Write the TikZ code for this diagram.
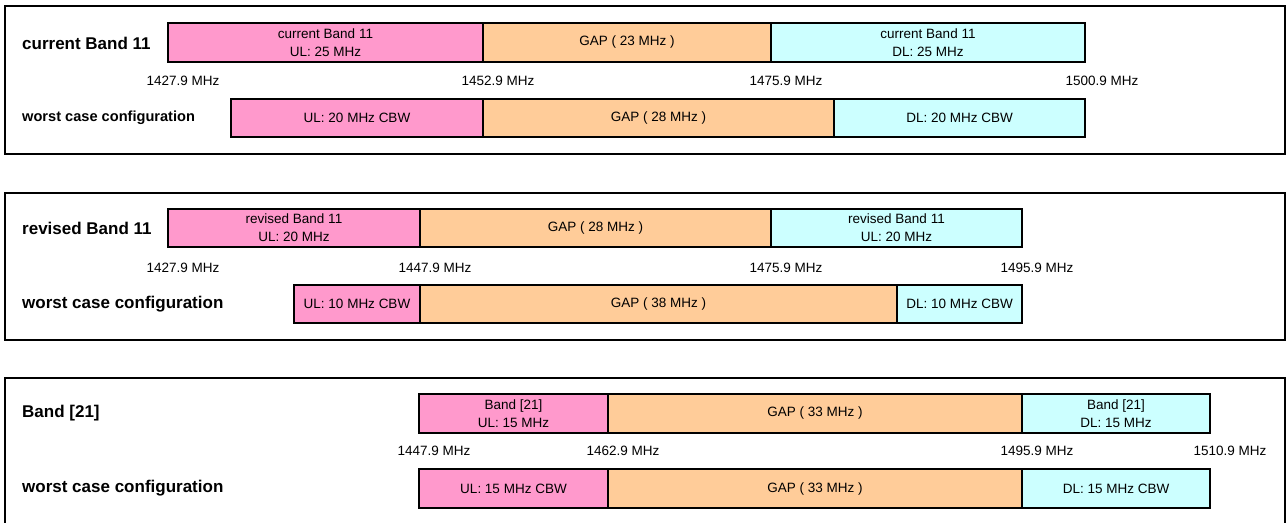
\documentclass[tikz,border=0pt]{standalone}
\usepackage{fontspec}
\setmainfont{Liberation Sans}
\definecolor{ulc}{HTML}{FF99CC}
\definecolor{gapc}{HTML}{FFCC99}
\definecolor{dlc}{HTML}{CCFFFF}
\tikzset{
  seg/.style={draw=black, line width=1.6pt, rectangle, inner sep=0pt, outer sep=0pt,
    anchor=north west, align=center, font=\fontsize{13.5}{18}\selectfont},
  frame/.style={draw=black, line width=2.5pt},
  freq/.style={font=\fontsize{13.5}{16}\selectfont, inner sep=0pt},
  rowlab/.style={font=\bfseries\fontsize{17}{20}\selectfont, anchor=west, inner sep=0pt},
  rowlabsmall/.style={rowlab, font=\bfseries\fontsize{14.6}{17}\selectfont},
}
\newcommand{\segm}[7]{\node[seg, fill=#2, minimum width={(#4-#3)*1pt}, minimum height={(#6-#5)*1pt}] (#1) at (#3,#5) {#7};}
\begin{document}
\begin{tikzpicture}[x=1pt,y=-1pt]
\useasboundingbox (0,0) rectangle (1287,522);
% frames
\draw[frame] (5,6) rectangle (1285,154);
\draw[frame] (5,193) rectangle (1285,340);
\draw[frame] (5,545) |- (1285,378) -- (1285,545);

% ---------- panel 1
\node[rowlab] (p1lab) at (22,43) {current Band 11};
\node[rowlabsmall] (p1wlab) at (22,118) {worst case configuration};
\segm{p1ul}{ulc}{168}{483}{23}{62}{current Band 11\\UL: 25 MHz}
\segm{p1gap}{gapc}{483}{771}{23}{62}{GAP ( 23 MHz )}
\segm{p1dl}{dlc}{771}{1085}{23}{62}{current Band 11\\DL: 25 MHz}
\node[freq] (p1f1) at (183,81) {1427.9 MHz};
\node[freq] (p1f2) at (498,81) {1452.9 MHz};
\node[freq] (p1f3) at (786,81) {1475.9 MHz};
\node[freq] (p1f4) at (1102,81) {1500.9 MHz};
\segm{p1wul}{ulc}{231}{483}{99}{137}{UL: 20 MHz CBW}
\segm{p1wgap}{gapc}{483}{834}{99}{137}{GAP ( 28 MHz )}
\segm{p1wdl}{dlc}{834}{1085}{99}{137}{DL: 20 MHz CBW}

% ---------- panel 2
\node[rowlab] (p2lab) at (22,228) {revised Band 11};
\node[rowlab] (p2wlab) at (22,304) {worst case configuration};
\segm{p2ul}{ulc}{168}{420}{209}{247}{revised Band 11\\UL: 20 MHz}
\segm{p2gap}{gapc}{420}{771}{209}{247}{GAP ( 28 MHz )}
\segm{p2dl}{dlc}{771}{1022}{209}{247}{revised Band 11\\UL: 20 MHz}
\node[freq] (p2f1) at (183,268) {1427.9 MHz};
\node[freq] (p2f2) at (435,268) {1447.9 MHz};
\node[freq] (p2f3) at (786,268) {1475.9 MHz};
\node[freq] (p2f4) at (1037,268) {1495.9 MHz};
\segm{p2wul}{ulc}{294}{420}{285}{323}{UL: 10 MHz CBW}
\segm{p2wgap}{gapc}{420}{897}{285}{323}{GAP ( 38 MHz )}
\segm{p2wdl}{dlc}{897}{1022}{285}{323}{DL: 10 MHz CBW}

% ---------- panel 3
\node[rowlab] (p3lab) at (22,413) {Band [21]};
\node[rowlab] (p3wlab) at (22,488) {worst case configuration};
\segm{p3ul}{ulc}{419}{608}{394}{433}{Band [21]\\UL: 15 MHz}
\segm{p3gap}{gapc}{608}{1022}{394}{433}{GAP ( 33 MHz )}
\segm{p3dl}{dlc}{1022}{1210}{394}{433}{Band [21]\\DL: 15 MHz}
\node[freq] (p3f1) at (434,451) {1447.9 MHz};
\node[freq] (p3f2) at (623,451) {1462.9 MHz};
\node[freq] (p3f3) at (1037,451) {1495.9 MHz};
\node[freq] (p3f4) at (1230,451) {1510.9 MHz};
\segm{p3wul}{ulc}{419}{608}{469}{508}{UL: 15 MHz CBW}
\segm{p3wgap}{gapc}{608}{1022}{469}{508}{GAP ( 33 MHz )}
\segm{p3wdl}{dlc}{1022}{1210}{469}{508}{DL: 15 MHz CBW}
\end{tikzpicture}
\end{document}
